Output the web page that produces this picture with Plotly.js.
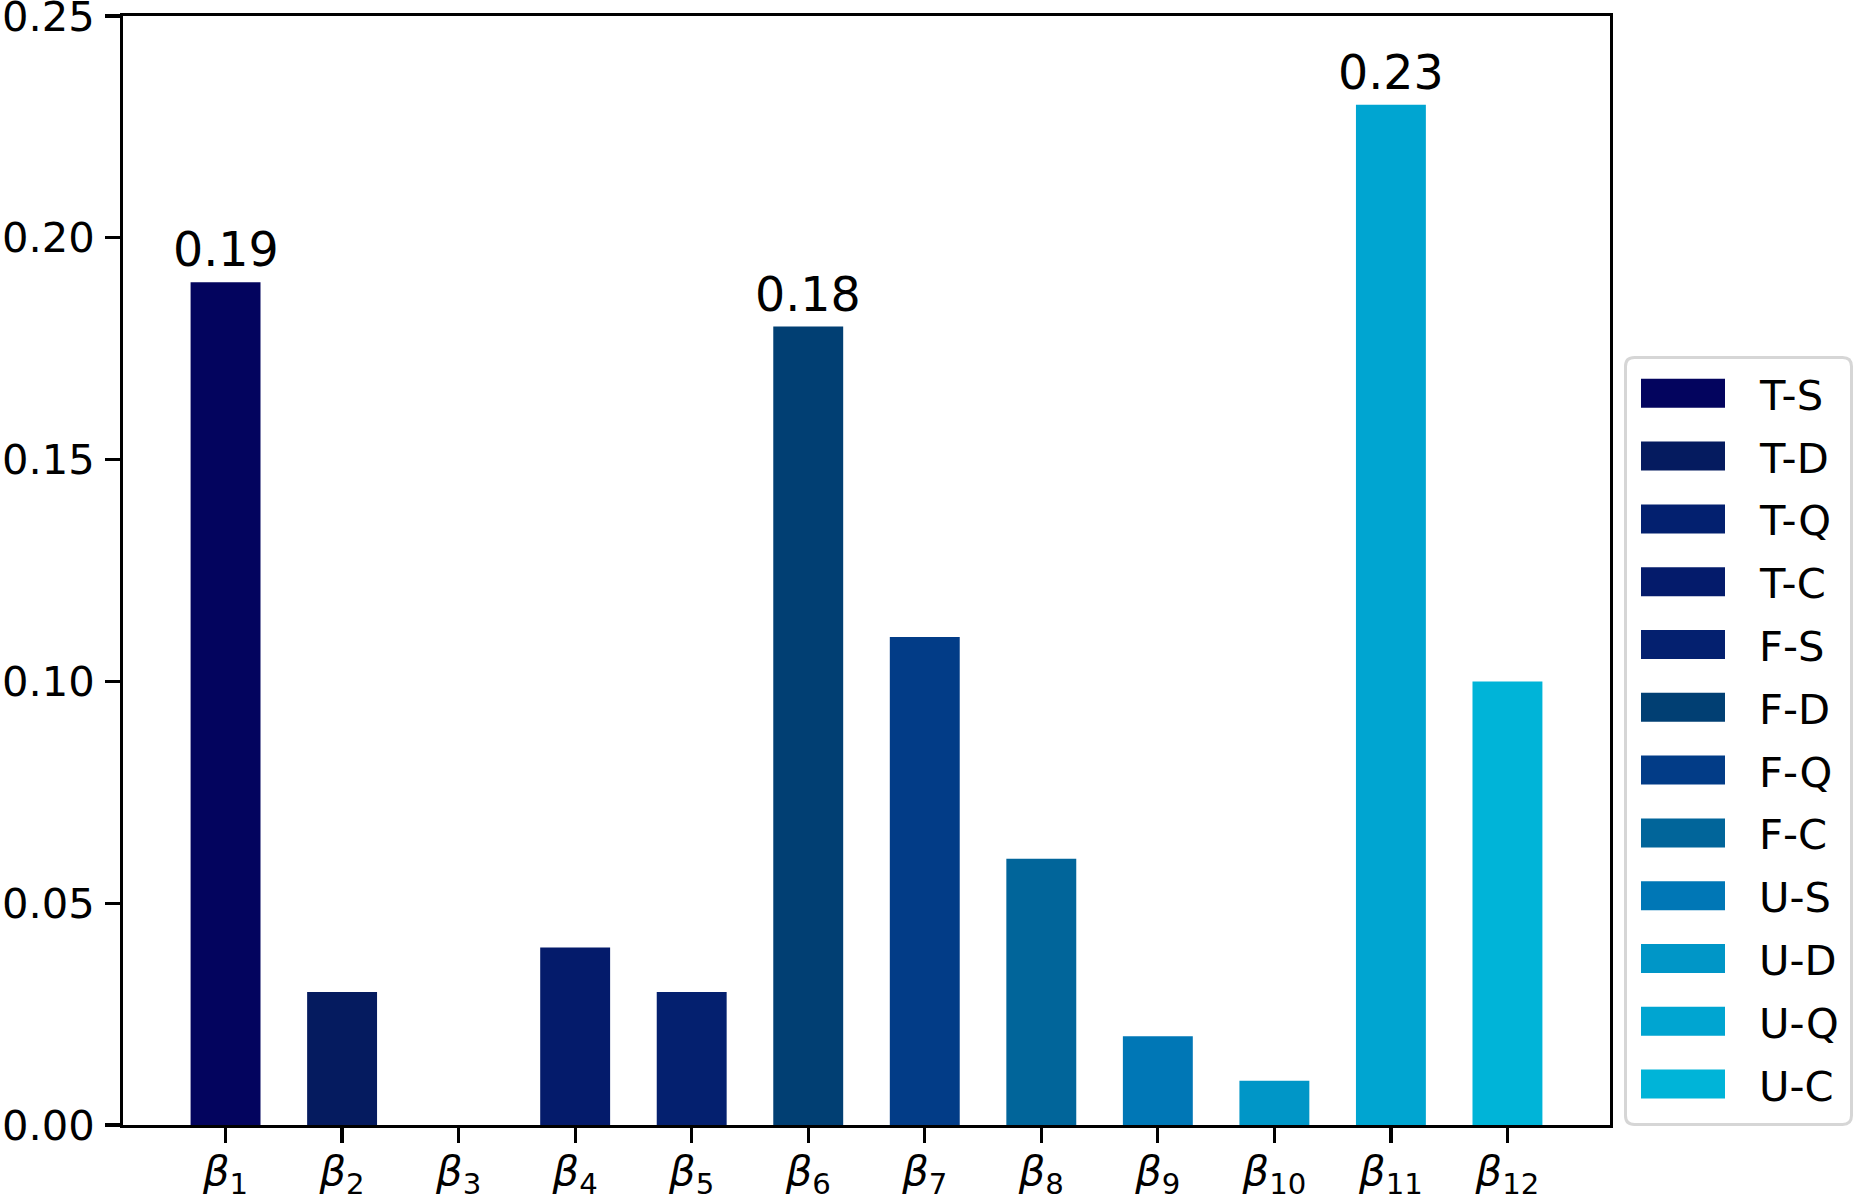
<!DOCTYPE html>
<html>
<head>
<meta charset="utf-8">
<script src="https://cdn.plot.ly/plotly-3.0.1.min.js"></script>
<style>html,body{margin:0;padding:0;background:#fff;}</style>
</head>
<body>
<div id="chart" style="width:1854px;height:1200px;"></div>
<script>
// ---- data ----
var categories = ["1","2","3","4","5","6","7","8","9","10","11","12"];
var seriesNames = ["T-S","T-D","T-Q","T-C","F-S","F-D","F-Q","F-C","U-S","U-D","U-Q","U-C"];
var values = [0.19, 0.03, 0.00, 0.04, 0.03, 0.18, 0.11, 0.06, 0.02, 0.01, 0.23, 0.10];
var colors = ["#03045e","#051b5f","#03206f","#041b6b","#04206f","#013f73","#023c87","#01659a","#0077b6","#0096c7","#00a5d1","#00b4d8"];
var labeledBars = [0, 5, 10];
var yTickVals = [0, 0.05, 0.10, 0.15, 0.20, 0.25];

// ---- geometry (pixels) ----
var W = 1854, H = 1200;
var M = {l: 123, r: 244, t: 16, b: 75};
var plotW = W - M.l - M.r, plotH = H - M.t - M.b;
function px2x(px){ return (px - M.l) / plotW; }
function px2y(py){ return (H - M.b - py) / plotH; }
var FS = 41.67;
var FONT = "DejaVu Sans, Liberation Sans, sans-serif";

var traces = categories.map(function(c, i){
  return {
    type: "bar",
    x: [i],
    y: [values[i]],
    width: 0.6,
    name: seriesNames[i],
    marker: {color: colors[i], line: {width: 0}},
    showlegend: false,
    hoverinfo: "name+y"
  };
});

var annotations = labeledBars.map(function(i){
  return {
    x: i, y: values[i], xref: "x", yref: "y",
    text: values[i].toFixed(2),
    showarrow: false, yanchor: "bottom", xanchor: "center", yshift: 3,
    font: {family: FONT, size: 47.5, color: "#000"}
  };
});

// ---- legend drawn as shapes + annotations ----
var shapes = [];
function roundRectPath(x0, y0, x1, y1, r){
  var pts = [
    ["M", x0 + r, y0], ["L", x1 - r, y0], ["Q", x1, y0, x1, y0 + r],
    ["L", x1, y1 - r], ["Q", x1, y1, x1 - r, y1],
    ["L", x0 + r, y1], ["Q", x0, y1, x0, y1 - r],
    ["L", x0, y0 + r], ["Q", x0, y0, x0 + r, y0]
  ];
  return pts.map(function(p){
    var s = p[0];
    for (var k = 1; k < p.length; k += 2) {
      s += (k > 1 ? " " : "") + px2x(p[k]).toFixed(5) + "," + px2y(p[k+1]).toFixed(5);
    }
    return s;
  }).join(" ") + " Z";
}
shapes.push({
  type: "path", xref: "paper", yref: "paper",
  path: roundRectPath(1625.5, 357.5, 1851.5, 1124.5, 9),
  line: {color: "#d6d6d6", width: 3}, fillcolor: "rgba(255,255,255,0.8)", layer: "above"
});
var rowY0 = 393.3, rowDY = 62.8;
seriesNames.forEach(function(nm, k){
  var cy = rowY0 + k * rowDY;
  shapes.push({
    type: "rect", xref: "paper", yref: "paper",
    x0: px2x(1641), x1: px2x(1725), y0: px2y(cy + 14.5), y1: px2y(cy - 14.5),
    fillcolor: colors[k], line: {width: 0}, layer: "above"
  });
  annotations.push({
    xref: "paper", yref: "paper", x: px2x(1757), y: px2y(cy + 2),
    xanchor: "left", yanchor: "middle", showarrow: false, text: nm,
    font: {family: FONT, size: FS, color: "#000"}
  });
});

var layout = {
  width: W, height: H,
  margin: M,
  paper_bgcolor: "#fff", plot_bgcolor: "#fff",
  barmode: "overlay",
  showlegend: false,
  font: {family: FONT, size: FS, color: "#000"},
  xaxis: {
    range: [-0.88, 11.88],
    tickvals: categories.map(function(c, i){ return i; }),
    ticktext: categories.map(function(c){ return "<i>β</i><sub>" + c + "</sub>"; }),
    ticks: "outside", ticklen: 14.6, tickwidth: 3.3, tickcolor: "#000",
    ticklabelstandoff: -8, ticklabeloverflow: "allow",
    showline: true, linewidth: 3.3, linecolor: "#000", mirror: true,
    showgrid: false, zeroline: false,
    tickfont: {family: FONT, size: FS, color: "#000"}
  },
  yaxis: {
    range: [0, 0.25],
    tickvals: yTickVals,
    tickformat: ".2f",
    ticks: "outside", ticklen: 14.6, tickwidth: 3.3, tickcolor: "#000",
    ticklabelstandoff: 2, ticklabeloverflow: "allow",
    showline: true, linewidth: 3.3, linecolor: "#000", mirror: true,
    showgrid: false, zeroline: false,
    tickfont: {family: FONT, size: FS, color: "#000"}
  },
  annotations: annotations,
  shapes: shapes
};

Plotly.newPlot("chart", traces, layout, {staticPlot: true, displayModeBar: false});
</script>
</body>
</html>
